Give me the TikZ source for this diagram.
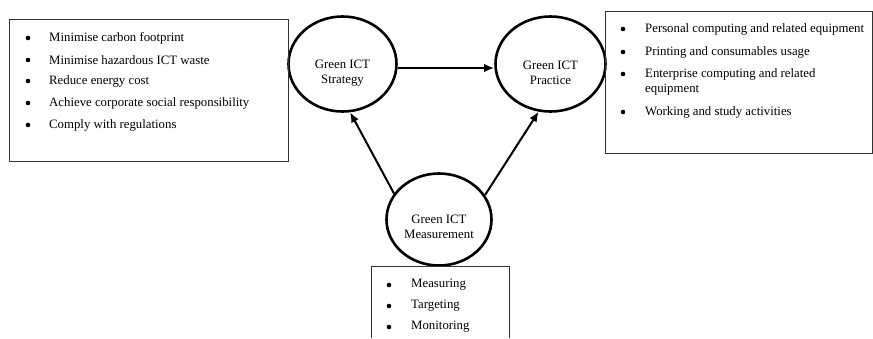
\documentclass[tikz,border=0pt]{standalone}
\usepackage{fontspec}
\setmainfont{Liberation Serif}
\usetikzlibrary{shapes.geometric,arrows.meta}
\begin{document}
\begin{tikzpicture}[x=1pt,y=-1pt,
  stage/.style={draw,ellipse,line width=2.6pt,inner sep=0pt},
  stagetext/.style={align=center,inner sep=0pt,font=\fontsize{12.8}{15.5}\selectfont},
  listbox/.style={draw=black!80,line width=0.9pt},
  item/.style={anchor=west,inner sep=0pt,font=\fontsize{12.8}{15}\selectfont},
  dot/.style={circle,fill=black,inner sep=0pt,minimum size=4.6pt},
  link/.style={line width=2pt,-{Latex[length=10pt,width=8.5pt]}}]
\useasboundingbox (0,0) rectangle (873,338);

% stages
\node[stage,minimum width=108pt,minimum height=95pt] (strat) at (342.5,64) {};
\node[stage,minimum width=110pt,minimum height=95pt] (prac) at (550.5,64) {};
\node[stage,minimum width=105pt,minimum height=92pt] (meas) at (439,219.5) {};
\node[stagetext] (stratT) at ([yshift=-9pt]strat.center) {Green ICT\\Strategy};
\node[stagetext] (pracT) at ([yshift=-9pt]prac.center) {Green ICT\\Practice};
\node[stagetext] (measT) at ([yshift=-7.5pt]meas.center) {Green ICT\\Measurement};

% links between stages
\draw[link] ([yshift=-4pt]strat.east) -- ([yshift=-4pt]prac.west);
\draw[link] (meas.150) -- (strat.279);
\draw[link] (meas.28) -- (prac.256);

% goals box
\draw[listbox] (9,19) rectangle (288,161);
\foreach \y/\t [count=\i] in {38/Minimise carbon footprint,60/Minimise hazardous ICT waste,81/Reduce energy cost,103/Achieve corporate social responsibility,125/Comply with regulations}{
  \node[dot] (gb\i) at (28,\y) {};
  \node[item] (g\i) at (49,\y) {\t};
}

% practice areas box
\draw[listbox] (605,11) -- (872,11) -- (872,153) -- (605,153) -- cycle;
\foreach \y/\t [count=\i] in {29/Personal computing and related equipment,52/Printing and consumables usage,74/Enterprise computing and related,112/Working and study activities}{
  \node[dot] (pb\i) at (623,\y) {};
  \node[item] (p\i) at (645,\y) {\t};
}
\node[item] (p3b) at (645,90) {equipment};

% measurement box (open at the lower edge)
\draw[listbox] (371,338) -- (371,266) -- (509,266) -- (509,338);
\foreach \y/\t [count=\i] in {285/Measuring,306/Targeting,327/Monitoring}{
  \node[dot] (mb\i) at (389,\y) {};
  \node[item] (m\i) at (411,\y) {\t};
}
\end{tikzpicture}
\end{document}
